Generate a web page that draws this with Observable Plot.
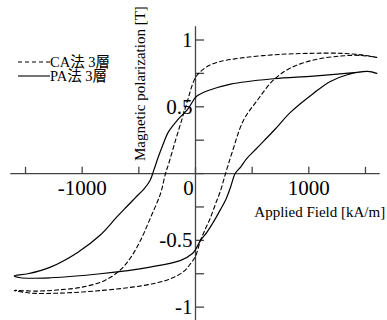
<!DOCTYPE html>
<html><head><meta charset="utf-8">
<script src="https://cdn.jsdelivr.net/npm/d3@7"></script>
<script src="https://cdn.jsdelivr.net/npm/@observablehq/plot@0.6"></script>
<style>
body{margin:0;background:#fff;}
#wrap{position:relative;width:387px;height:320px;}
#legend{position:absolute;left:18px;top:55px;font-family:"Liberation Serif","Noto Sans CJK JP",serif;font-size:14.5px;color:#000;}
#legend .row{display:flex;align-items:center;height:14px;}
#legend .row span{display:inline-block;height:14px;line-height:14px;overflow:visible;}
#legend svg{display:block;}
</style></head><body><div id="wrap"></div>
<script>
// Series names
const seriesNames = ["CA法 3層", "PA法 3層"];
// CA 法: descending branch then ascending branch (H in kA/m, J in T)
const caH = [1600,1500,1300,1000,700,400,200,100,40,0,-30,-62,-115,-176,-238,-265,-309,-397,-485,-573,-662,-800,-1000,-1200,-1400,-1600,
             -1450,-1200,-900,-600,-350,-200,-100,-40,0,44,90,132,180,220,265,320,424,547,688,838,1040,1280,1450,1600];
const caJ = [0.87,0.885,0.90,0.90,0.89,0.865,0.835,0.80,0.76,0.72,0.66,0.57,0.42,0.25,0.07,0.0,-0.15,-0.33,-0.50,-0.63,-0.72,-0.80,-0.85,-0.87,-0.88,-0.875,
             -0.895,-0.895,-0.88,-0.855,-0.82,-0.78,-0.73,-0.67,-0.62,-0.50,-0.41,-0.33,-0.22,-0.13,0.0,0.15,0.40,0.55,0.70,0.79,0.85,0.88,0.885,0.87];
// PA 法
const paH = [1600,1520,1450,1040,690,310,106,30,0,-70,-160,-240,-290,-330,-370,-400,-450,-530,-610,-700,-840,-1040,-1280,-1480,-1600,
             -1545,-1280,-840,-400,-130,-30,0,44,100,160,220,270,310,350,400,450,530,610,700,840,1040,1190,1340,1520,1600];
const paJ = [0.75,0.765,0.76,0.73,0.71,0.67,0.62,0.59,0.57,0.48,0.40,0.31,0.21,0.12,0.02,-0.05,-0.11,-0.18,-0.25,-0.33,-0.46,-0.59,-0.70,-0.75,-0.765,
             -0.78,-0.78,-0.75,-0.70,-0.65,-0.60,-0.57,-0.50,-0.44,-0.36,-0.27,-0.19,-0.10,0.0,0.05,0.11,0.18,0.25,0.33,0.46,0.60,0.69,0.74,0.765,0.75];
// Ticks and labels
const xTicks = [-1500,-1000,-500,0,500,1000,1500];
const xTickLabels = [-1000, 1000];
const yTicks = [-1,-0.75,-0.5,-0.25,0,0.25,0.5,0.75,1];
const yTickLabels = [-1,-0.5,0.5,1];
const zeroLabel = ["0"];
const xTitle = "Applied Field [kA/m]";
const yTitle = "Magnetic polarization [T]";

const ca = caH.map((h,i)=>({H:h, J:caJ[i]}));
const pa = paH.map((h,i)=>({H:h, J:paJ[i]}));
const serif = "Liberation Serif, Times New Roman, serif";
const axisColor = "#444";

const chart = Plot.plot({
  width: 387, height: 320,
  marginLeft: 10.3, marginRight: 7.3, marginTop: 26.15, marginBottom: 0,
  x: {domain: [-1630, 1630], axis: null},
  y: {domain: [-1.1, 1.1], axis: null},
  style: {fontFamily: serif, background: "#fff", overflow: "visible"},
  marks: [
    Plot.ruleY([0], {stroke: axisColor, strokeWidth: 1.3}),
    Plot.ruleX([0], {stroke: axisColor, strokeWidth: 1.3}),
    Plot.ruleX(xTicks, {x: d=>d, y1: 0, y2: 0.047, stroke: axisColor, strokeWidth: 1.3}),
    Plot.ruleY(yTicks, {y: d=>d, x1: 0, x2: 80, stroke: axisColor, strokeWidth: 1.3}),
    Plot.line(ca, {x: "H", y: "J", curve: "catmull-rom", stroke: "#000", strokeWidth: 1.1, strokeDasharray: "4,3"}),
    Plot.line(pa, {x: "H", y: "J", curve: "catmull-rom", stroke: "#000", strokeWidth: 1.2}),
    Plot.text(xTickLabels, {x: d=>d, y: 0, text: d=>String(d), dy: 15, fontSize: 21, fill: "#000"}),
    Plot.text(zeroLabel, {x: 0, y: 0, text: d=>d, dx: -7, dy: 15, fontSize: 21, fill: "#000"}),
    Plot.text(yTickLabels, {x: 0, y: d=>d, text: d=>String(d), dx: -3, textAnchor: "end", fontSize: 21, fill: "#000"}),
    Plot.text([xTitle], {frameAnchor: "right", text: d=>d, textAnchor: "end", lineAnchor: "bottom", dx: 5, dy: 43, fontSize: 15, fill: "#000"}),
    Plot.text([yTitle], {frameAnchor: "top-left", text: d=>d, rotate: -90, textAnchor: "middle", lineAnchor: "bottom", dx: 134, dy: 57, fontSize: 15, fill: "#000"})
  ]
});
const wrap = document.getElementById("wrap");
wrap.appendChild(chart);

// Legend overlay
const legend = document.createElement("div");
legend.id = "legend";
const dashes = ["4,3", null];
seriesNames.forEach((name, i) => {
  const row = document.createElement("div");
  row.className = "row";
  row.innerHTML = `<svg width="32" height="14"><line x1="0" x2="32" y1="7" y2="7" stroke="#000" stroke-width="1.1" ${dashes[i] ? `stroke-dasharray="${dashes[i]}"` : ""}/></svg><span>${name}</span>`;
  legend.appendChild(row);
});
wrap.appendChild(legend);
</script></body></html>
